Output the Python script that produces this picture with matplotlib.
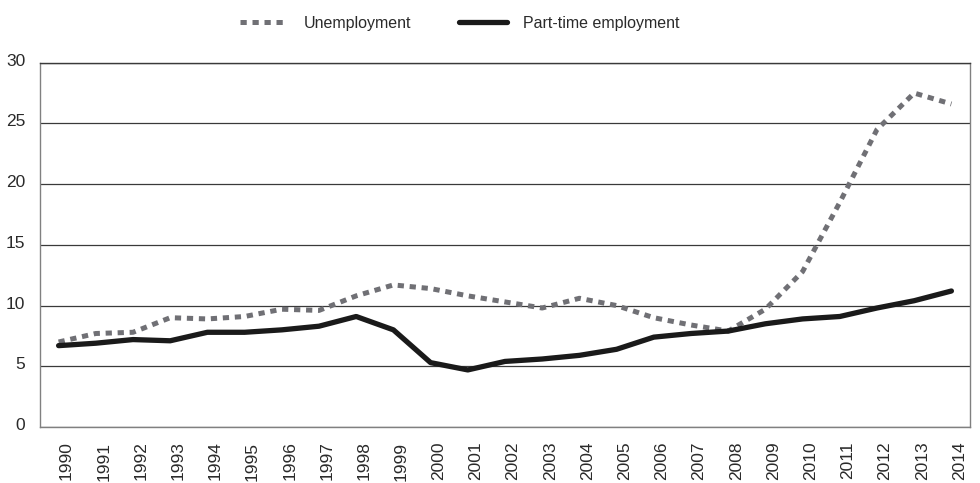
import matplotlib
matplotlib.use("Agg")
import matplotlib.pyplot as plt
from matplotlib.transforms import ScaledTranslation

years = list(range(1990, 2015))
unemployment = [7.0, 7.7, 7.8, 9.0, 8.9, 9.1, 9.7, 9.6, 10.8, 11.7, 11.4, 10.8, 10.3,
                9.8, 10.6, 10.0, 9.0, 8.4, 7.9, 9.7, 12.8, 18.5, 24.5, 27.5, 26.6]
part_time = [6.7, 6.9, 7.2, 7.1, 7.8, 7.8, 8.0, 8.3, 9.1, 8.0, 5.3, 4.7, 5.4,
             5.6, 5.9, 6.4, 7.4, 7.7, 7.9, 8.5, 8.9, 9.1, 9.8, 10.4, 11.2]
yticks = [0, 5, 10, 15, 20, 25, 30]
series_labels = ["Unemployment", "Part-time employment"]

plt.rcParams['font.family'] = ['Liberation Sans', 'DejaVu Sans']

fig = plt.figure(figsize=(9.8, 4.83), dpi=100)
ax = fig.add_axes([40/980, 1-427/483, 930/980, (427-62.7)/483])

ax.plot(years, unemployment, color='#707075', linewidth=3.6, linestyle=(0, (1.25, 1.15)),
        dash_capstyle='butt', label=series_labels[0], zorder=3)
ax.plot(years, part_time, color='#1a1a1a', linewidth=3.8, solid_capstyle='round',
        solid_joinstyle='round', label=series_labels[1], zorder=4)

ax.set_xlim(1989.5, 2014.5)
ax.set_ylim(0, 30)
ax.set_yticks(yticks)
ax.set_xticks(years)
ax.set_xticklabels([str(y) for y in years], rotation=90, fontsize=12.5, color='#2a2a2a')
ax.set_yticklabels([str(v) for v in yticks], fontsize=12.5, color='#2a2a2a')
ax.tick_params(axis='both', length=0)
ax.tick_params(axis='y', pad=10.5)
ax.tick_params(axis='x', pad=10.5)

for lab in ax.get_xticklabels():
    lab.set_transform(lab.get_transform() + ScaledTranslation(8/100, 0, fig.dpi_scale_trans))
for lab in ax.get_yticklabels():
    lab.set_transform(lab.get_transform() + ScaledTranslation(0, 3/100, fig.dpi_scale_trans))

ax.yaxis.grid(True, color='#3a3a3a', linewidth=0.9)
ax.set_axisbelow(True)
for s in ax.spines.values():
    s.set_color('#808080')
    s.set_linewidth(1.0)
ax.spines['top'].set_color('#3a3a3a')

fig.legend(loc='center', bbox_to_anchor=(0.469, 0.952), ncol=2, frameon=False,
           fontsize=11.5, handlelength=3.0, handletextpad=1.0, columnspacing=3.0,
           labelcolor='#2a2a2a')

fig.savefig("out.png", dpi=100)
